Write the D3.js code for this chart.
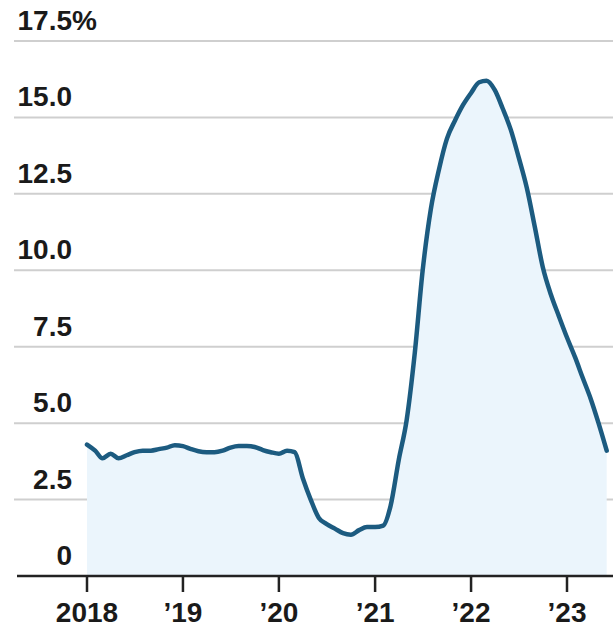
<!DOCTYPE html>
<html>
<head>
<meta charset="utf-8">
<script src="https://cdn.jsdelivr.net/npm/d3@7"></script>
<style>
  html, body { margin: 0; padding: 0; background: #fff; }
  svg text { font-family: "Liberation Sans", Arial, sans-serif; fill: #1a1a1a; font-weight: bold; }
</style>
</head>
<body>
<div id="chart"></div>
<script>
// monthly values, Jan 2018 .. Jun 2023 (percent)
var startMonth = "2018-01";
var values = [
  4.3, 4.1, 3.85, 4.0, 3.85, 3.95, 4.05, 4.1, 4.1, 4.15, 4.2, 4.28,   // 2018
  4.25, 4.15, 4.08, 4.05, 4.05, 4.1, 4.2, 4.25, 4.25, 4.22, 4.12, 4.05, // 2019
  4.0, 4.1, 4.05, 3.2, 2.5, 1.9, 1.7, 1.55, 1.4, 1.35, 1.5, 1.6,       // 2020
  1.6, 1.65, 2.3, 3.8, 5.1, 7.3, 10.0, 12.0, 13.3, 14.3, 14.9, 15.4,   // 2021
  15.8, 16.15, 16.2, 15.9, 15.3, 14.6, 13.7, 12.7, 11.4, 10.1, 9.2, 8.5, // 2022
  7.8, 7.15, 6.5, 5.8, 5.0, 4.1                                         // 2023
];
var yTicks = [0, 2.5, 5, 7.5, 10, 12.5, 15, 17.5];
var yTickLabels = ["0", "2.5", "5.0", "7.5", "10.0", "12.5", "15.0", "17.5"];
var xTickYears = [2018, 2019, 2020, 2021, 2022, 2023];
var xTickLabels = ["2018", "\u201919", "\u201920", "\u201921", "\u201922", "\u201923"];

var W = 613, H = 630;
var parse = d3.timeParse("%Y-%m");
var t0 = parse(startMonth);
var data = values.map(function(v, i) {
  return { date: d3.timeMonth.offset(t0, i), value: v };
});

var x = d3.scaleTime()
  .domain([new Date(2018, 0, 1), new Date(2023, 0, 1)])
  .range([87, 567]);
var y = d3.scaleLinear()
  .domain([0, 17.5])
  .range([576, 41]);

var svg = d3.select("#chart").append("svg")
  .attr("width", W)
  .attr("height", H);

// gridlines
svg.append("g").selectAll("line")
  .data(yTicks.filter(function(d) { return d > 0; }))
  .enter().append("line")
  .attr("x1", 14).attr("x2", W)
  .attr("y1", function(d) { return y(d); })
  .attr("y2", function(d) { return y(d); })
  .attr("stroke", "#cfcfcf")
  .attr("stroke-width", 2);

// area under line
var area = d3.area()
  .x(function(d) { return x(d.date); })
  .y0(y(0))
  .y1(function(d) { return y(d.value); })
  .curve(d3.curveMonotoneX);
svg.append("path")
  .datum(data)
  .attr("d", area)
  .attr("fill", "#ebf5fc");

// y labels
var yl = svg.append("g");
yl.selectAll("text")
  .data(yTicks)
  .enter().append("text")
  .attr("x", 72)
  .attr("y", function(d) { return y(d) - 11; })
  .attr("text-anchor", "end")
  .attr("font-size", 28)
  .text(function(d, i) { return yTickLabels[i]; });
yl.append("text")
  .attr("x", 72)
  .attr("y", y(17.5) - 11)
  .attr("font-size", 28)
  .text("%");

// baseline + ticks
svg.append("line")
  .attr("x1", 17).attr("x2", W)
  .attr("y1", y(0)).attr("y2", y(0))
  .attr("stroke", "#222").attr("stroke-width", 2.5);
var xt = svg.append("g").selectAll("g")
  .data(xTickYears)
  .enter().append("g")
  .attr("transform", function(d) { return "translate(" + x(new Date(d, 0, 1)) + ",0)"; });
xt.append("line")
  .attr("y1", y(0)).attr("y2", y(0) + 16)
  .attr("stroke", "#222").attr("stroke-width", 2.5);
xt.append("text")
  .attr("y", 622)
  .attr("text-anchor", "middle")
  .attr("font-size", 28)
  .text(function(d, i) { return xTickLabels[i]; });

// line
var line = d3.line()
  .x(function(d) { return x(d.date); })
  .y(function(d) { return y(d.value); })
  .curve(d3.curveMonotoneX);
svg.append("path")
  .datum(data)
  .attr("d", line)
  .attr("fill", "none")
  .attr("stroke", "#1c5b80")
  .attr("stroke-width", 4.5)
  .attr("stroke-linejoin", "round")
  .attr("stroke-linecap", "round");
</script>
</body>
</html>
